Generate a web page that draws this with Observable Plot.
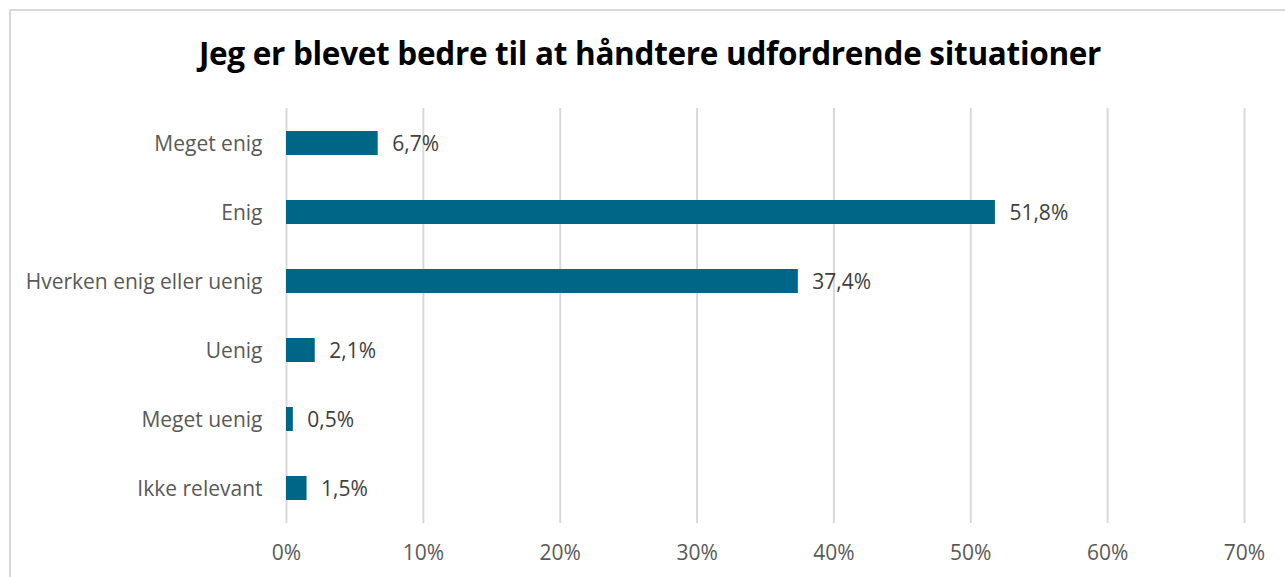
<!DOCTYPE html>
<html>
<head>
<meta charset="utf-8">
<script src="https://cdn.jsdelivr.net/npm/d3@7"></script>
<script src="https://cdn.jsdelivr.net/npm/@observablehq/plot@0.6"></script>
<style>
  html, body { margin: 0; padding: 0; background: #fff; }
  #wrap { position: relative; width: 1285px; height: 577px; overflow: hidden; font-family: "Open Sans", sans-serif; }
  #frame { position: absolute; left: 9px; top: 9px; width: 1290px; height: 600px; border: 2px solid #d9d9d9; box-sizing: border-box; }
  #title { position: absolute; left: 0; top: 33px; width: 1300px; text-align: center; font-weight: bold; font-size: 31.5px; line-height: 40px; color: #000; white-space: nowrap; letter-spacing: -0.3px; }
  #chart { position: absolute; left: 0; top: 90px; }
</style>
</head>
<body>
<div id="wrap">
  <div id="frame"></div>
  <div id="title">Jeg er blevet bedre til at håndtere udfordrende situationer</div>
  <div id="chart"></div>
</div>
<script>
const categories = ["Meget enig", "Enig", "Hverken enig eller uenig", "Uenig", "Meget uenig", "Ikke relevant"];
const values = [0.067, 0.518, 0.374, 0.021, 0.005, 0.015];
const valueLabels = ["6,7%", "51,8%", "37,4%", "2,1%", "0,5%", "1,5%"];
const xTicks = [0, 0.1, 0.2, 0.3, 0.4, 0.5, 0.6, 0.7];

const data = categories.map((c, i) => ({category: c, value: values[i], label: valueLabels[i]}));

const plot = Plot.plot({
  width: 1285,
  height: 487,
  marginLeft: 286,
  marginRight: 41,
  marginTop: 18,
  marginBottom: 54,
  style: {fontFamily: "'Open Sans', sans-serif", fontSize: "21px", color: "#595959", background: "transparent"},
  x: {domain: [0, 0.7], ticks: xTicks, tickFormat: d => Math.round(d * 100) + "%", label: null},
  y: {domain: categories, paddingInner: 0.652, paddingOuter: 0.326, label: null},
  marks: [
    Plot.gridX(xTicks, {stroke: "#d9d9d9", strokeOpacity: 1, strokeWidth: 2}),
    Plot.axisX({ticks: xTicks, tickSize: 0, tickPadding: 22, tickFormat: d => Math.round(d * 100) + "%", label: null, fill: "#595959"}),
    Plot.axisY({tickSize: 0, tickPadding: 24, dy: 1, label: null, fill: "#595959"}),
    Plot.barX(data, {x: "value", y: "category", fill: "#006687"}),
    Plot.text(data, {x: "value", y: "category", text: "label", textAnchor: "start", dx: 14, dy: 1, fill: "#404040", fontSize: 21})
  ]
});
document.getElementById("chart").appendChild(plot);
</script>
</body>
</html>
